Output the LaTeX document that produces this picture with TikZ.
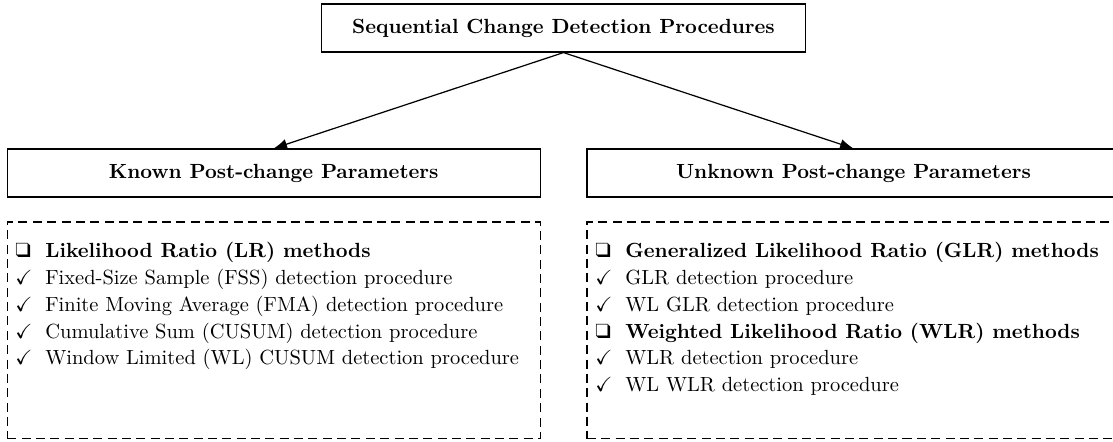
\documentclass[tikz,border=0pt]{standalone}
\usepackage{amssymb}
\usepackage{pifont}
\usepackage{array}
\usetikzlibrary{arrows.meta}

% one drawing unit is one pixel of the 1113 x 441 canvas
\newcommand{\px}{0.488pt}
\newcommand{\tickmark}{\checkmark}
\newcommand{\groupmark}{\ding{113}}

\tikzset{
  titlebox/.style={draw, line width=0.6pt, inner sep=0pt,
    minimum width=236.2pt, minimum height=23.4pt, font=\bfseries},
  classbox/.style={draw, line width=0.6pt, inner sep=0pt,
    minimum width=260.1pt, minimum height=23.4pt, font=\bfseries},
  listframe/.style={draw, line width=0.6pt, dash pattern=on 4.4pt off 2.6pt,
    inner sep=0pt, minimum width=260.1pt, minimum height=105.7pt},
  listtext/.style={anchor=base west, inner sep=0pt, align=left},
  branch/.style={line width=0.6pt, -{Latex[length=6.5pt,width=5pt]}},
}

\begin{document}
\begin{tikzpicture}[x=\px, y=-\px]
  \useasboundingbox (0,0) rectangle (1113,441);
  \clip (0,0) rectangle (1113,441);

  % header and the two classes
  \node[titlebox] (root) at (563.5,28) {Sequential Change Detection Procedures};
  \node[classbox] (known) at (273.7,173) {Known Post-change Parameters};
  \node[classbox] (unknown) at (853.4,173) {Unknown Post-change Parameters};

  \draw[branch] (root.south) -- (known.north);
  \draw[branch] (root.south) -- (unknown.north);

  % dashed frames holding the method lists
  \node[listframe] (knownlist) at (273.7,330.3) {};
  \node[listframe] (unknownlist) at (853.4,330.3) {};

  \renewcommand{\arraystretch}{1.09}
  \node[listtext] (knownitems) at (15,257.7) {%
    \begin{tabular}[t]{@{}p{14.6pt}@{}l@{}}
      \groupmark & \textbf{Likelihood Ratio (LR) methods}\\
      \tickmark & Fixed-Size Sample (FSS) detection procedure\\
      \tickmark & Finite Moving Average (FMA) detection procedure\\
      \tickmark & Cumulative Sum (CUSUM) detection procedure\\
      \tickmark & Window Limited (WL) CUSUM detection procedure
    \end{tabular}};
  \node[listtext] (unknownitems) at (595,257.7) {%
    \begin{tabular}[t]{@{}p{14.6pt}@{}l@{}}
      \groupmark & \textbf{Generalized Likelihood Ratio (GLR) methods}\\
      \tickmark & GLR detection procedure\\
      \tickmark & WL GLR detection procedure\\
      \groupmark & \textbf{Weighted Likelihood Ratio (WLR) methods}\\
      \tickmark & WLR detection procedure\\
      \tickmark & WL WLR detection procedure
    \end{tabular}};
\end{tikzpicture}
\end{document}
